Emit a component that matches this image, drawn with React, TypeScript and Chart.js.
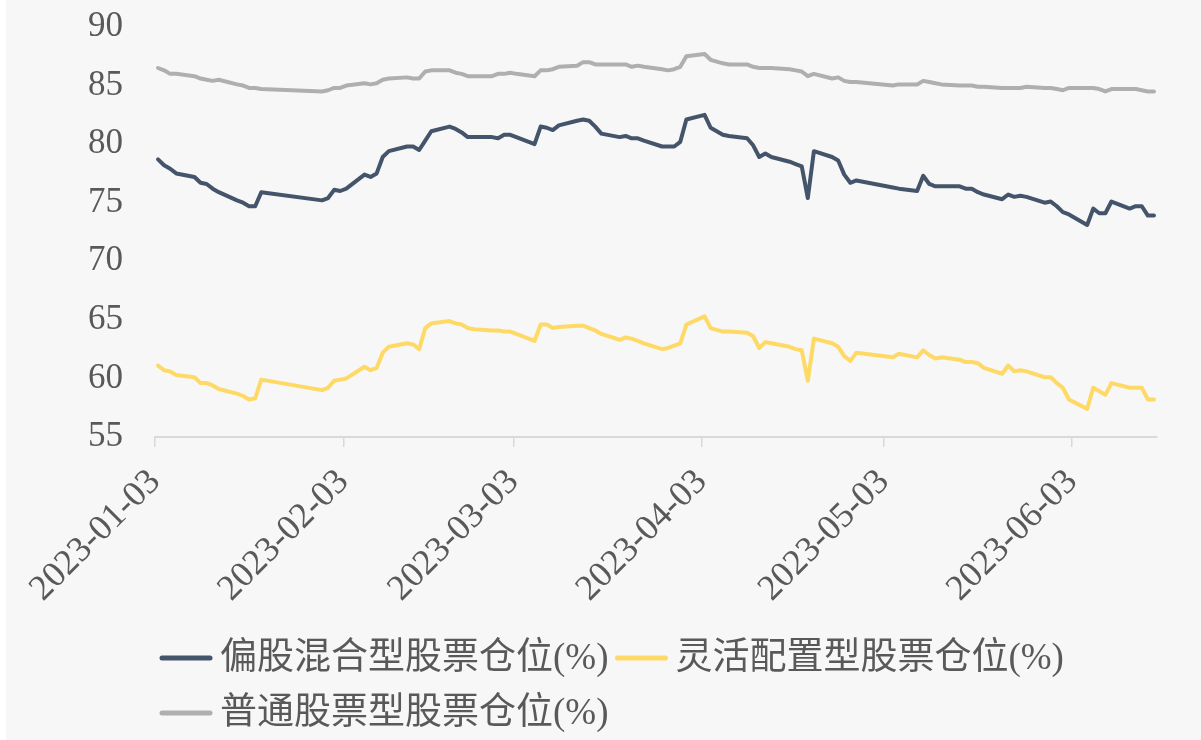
import React, { useEffect, useRef } from 'react';
import { Chart, registerables } from 'chart.js';

Chart.register(...registerables);

// Trading days (2023)
const dates = [
  '2023-01-03','2023-01-04','2023-01-05','2023-01-06','2023-01-09','2023-01-10','2023-01-11','2023-01-12','2023-01-13',
  '2023-01-16','2023-01-17','2023-01-18','2023-01-19','2023-01-20','2023-01-30','2023-01-31',
  '2023-02-01','2023-02-02','2023-02-03','2023-02-06','2023-02-07','2023-02-08','2023-02-09','2023-02-10',
  '2023-02-13','2023-02-14','2023-02-15','2023-02-16','2023-02-17','2023-02-20','2023-02-21','2023-02-22',
  '2023-02-23','2023-02-24','2023-02-27','2023-02-28',
  '2023-03-01','2023-03-02','2023-03-03','2023-03-06','2023-03-07','2023-03-08','2023-03-09','2023-03-10',
  '2023-03-13','2023-03-14','2023-03-15','2023-03-16','2023-03-17','2023-03-20','2023-03-21','2023-03-22',
  '2023-03-23','2023-03-24','2023-03-27','2023-03-28','2023-03-29','2023-03-30','2023-03-31',
  '2023-04-03','2023-04-04','2023-04-06','2023-04-07','2023-04-10','2023-04-11','2023-04-12','2023-04-13',
  '2023-04-14','2023-04-17','2023-04-18','2023-04-19','2023-04-20','2023-04-21','2023-04-24','2023-04-25',
  '2023-04-26','2023-04-27','2023-04-28',
  '2023-05-04','2023-05-05','2023-05-08','2023-05-09','2023-05-10','2023-05-11','2023-05-12','2023-05-15',
  '2023-05-16','2023-05-17','2023-05-18','2023-05-19','2023-05-22','2023-05-23','2023-05-24','2023-05-25',
  '2023-05-26','2023-05-29','2023-05-30','2023-05-31',
  '2023-06-01','2023-06-02','2023-06-05','2023-06-06','2023-06-07','2023-06-08','2023-06-09','2023-06-12',
  '2023-06-13','2023-06-14','2023-06-15','2023-06-16',
];

// 偏股混合型股票仓位(%)
const mixedEquity = [
  78.7, 78.2, 77.9, 77.5, 77.2, 76.7, 76.6, 76.2, 75.9, 75.2, 75.0, 74.7, 74.7, 75.9, 75.2, 75.4,
  76.1, 76.0, 76.2, 77.4, 77.2, 77.5, 78.9, 79.4, 79.8, 79.8, 79.5, 80.3, 81.1, 81.5, 81.3, 81.0, 80.6, 80.6, 80.6, 80.5,
  80.8, 80.8, 80.6, 80.0, 81.5, 81.4, 81.2, 81.6, 82.0, 82.1, 82.0, 81.5, 80.9, 80.6, 80.7, 80.5, 80.5, 80.3, 79.8, 79.8, 79.8, 80.2, 82.1,
  82.5, 81.4, 80.8, 80.7, 80.5, 79.9, 78.9, 79.2, 78.9, 78.5, 78.3, 78.1, 75.4, 79.4, 78.9, 78.6, 77.4, 76.7, 76.9,
  76.3, 76.2, 76.0, 77.3, 76.6, 76.4, 76.4, 76.4, 76.2, 76.2, 75.9, 75.7, 75.3, 75.7, 75.5, 75.6, 75.5, 75.0, 75.1, 74.7,
  74.2, 74.0, 73.1, 74.5, 74.1, 74.1, 75.1, 74.5, 74.7, 74.7, 73.9, 73.9,
];

// 灵活配置型股票仓位(%)
const flexible = [
  61.1, 60.7, 60.6, 60.3, 60.1, 59.6, 59.6, 59.4, 59.1, 58.7, 58.5, 58.2, 58.3, 59.9, 59.0, 59.2,
  59.8, 59.9, 60.0, 61.0, 60.7, 60.9, 62.2, 62.7, 63.0, 62.9, 62.5, 64.3, 64.7, 64.9, 64.7, 64.6, 64.3, 64.2, 64.1, 64.1,
  64.0, 64.0, 63.8, 63.2, 64.6, 64.6, 64.3, 64.4, 64.5, 64.5, 64.3, 64.1, 63.8, 63.3, 63.5, 63.4, 63.2, 63.0, 62.5, 62.6, 62.8, 63.0, 64.6,
  65.3, 64.3, 64.0, 64.0, 63.9, 63.6, 62.6, 63.1, 63.0, 62.7, 62.5, 62.4, 59.8, 63.4, 63.0, 62.7, 61.9, 61.5, 62.2,
  61.8, 62.1, 61.8, 62.4, 62.0, 61.7, 61.8, 61.6, 61.4, 61.4, 61.3, 60.9, 60.4, 61.1, 60.6, 60.7, 60.6, 60.1, 60.1, 59.6,
  59.2, 58.2, 57.4, 59.2, 58.9, 58.6, 59.6, 59.2, 59.2, 59.2, 58.2, 58.2,
];

// 普通股票型股票仓位(%)
const stockFund = [
  86.5, 86.3, 86.0, 86.0, 85.8, 85.6, 85.5, 85.4, 85.5, 85.1, 85.0, 84.8, 84.8, 84.7, 84.5, 84.6,
  84.8, 84.8, 85.0, 85.2, 85.1, 85.2, 85.5, 85.6, 85.7, 85.6, 85.6, 86.2, 86.3, 86.3, 86.1, 86.0, 85.8, 85.8, 85.8, 86.0,
  86.0, 86.1, 86.0, 85.8, 86.3, 86.3, 86.4, 86.6, 86.7, 87.0, 87.0, 86.8, 86.8, 86.8, 86.8, 86.6, 86.7, 86.6, 86.4, 86.3, 86.4, 86.6, 87.5,
  87.7, 87.2, 86.9, 86.8, 86.8, 86.6, 86.5, 86.5, 86.5, 86.4, 86.3, 86.2, 85.8, 86.0, 85.6, 85.7, 85.4, 85.3, 85.3,
  85.0, 85.1, 85.1, 85.4, 85.3, 85.2, 85.1, 85.0, 85.0, 85.0, 84.9, 84.9, 84.8, 84.8, 84.8, 84.8, 84.9, 84.8, 84.8, 84.7,
  84.6, 84.8, 84.8, 84.8, 84.7, 84.5, 84.7, 84.7, 84.7, 84.6, 84.5, 84.5,
];

const tickLabels = ['2023-01-03', '2023-02-03', '2023-03-03', '2023-04-03', '2023-05-03', '2023-06-03'];
const axisStart = '2023-01-03';
const axisEnd = '2023-06-17';
const yMin = 55;
const yMax = 90;
const yStep = 5;

const seriesNames = ['偏股混合型股票仓位(%)', '灵活配置型股票仓位(%)', '普通股票型股票仓位(%)'];
const seriesColors = ['#44546a', '#ffd966', '#afafaf'];

const dayOf = (s: string) =>
  (Date.parse(s + 'T00:00:00Z') - Date.parse(axisStart + 'T00:00:00Z')) / 86400000;

const SERIF = "'Liberation Serif', 'Times New Roman', 'Noto Sans CJK SC', serif";
const TEXT = '#595959';

const bgPlugin = {
  id: 'bg',
  beforeDraw(chart: any) {
    const { ctx, width, height } = chart;
    ctx.save();
    ctx.fillStyle = '#ffffff';
    ctx.fillRect(0, 0, width, height);
    ctx.fillStyle = '#f7f7f7';
    ctx.fillRect(6, 0, width - 6, height);
    ctx.restore();
  },
};

const legendPlugin = {
  id: 'customLegend',
  afterDraw(chart: any) {
    const ctx = chart.ctx;
    ctx.save();
    ctx.font = `37px ${SERIF}`;
    ctx.textBaseline = 'middle';
    ctx.textAlign = 'left';
    const rows = [[0, 1], [2]];
    const rowY = [658, 713];
    const startX = 160;
    const lineLen = 52;
    const gap = 8;
    const itemGap = 7;
    rows.forEach((row, ri) => {
      let x = startX;
      const y = rowY[ri];
      row.forEach((i) => {
        ctx.strokeStyle = seriesColors[i];
        ctx.lineWidth = 5;
        ctx.lineCap = 'round';
        ctx.beginPath();
        ctx.moveTo(x + 2, y);
        ctx.lineTo(x + lineLen - 2, y);
        ctx.stroke();
        x += lineLen + gap;
        ctx.fillStyle = TEXT;
        ctx.fillText(seriesNames[i], x, y + 1);
        x += ctx.measureText(seriesNames[i]).width + itemGap;
      });
    });
    ctx.restore();
  },
};

export default function App() {
  const ref = useRef<HTMLCanvasElement | null>(null);

  useEffect(() => {
    if (!ref.current) return;
    const seriesValues = [mixedEquity, flexible, stockFund];
    const datasets = seriesValues.map((vals, i) => ({
      label: seriesNames[i],
      data: vals.map((v, k) => ({ x: dayOf(dates[k]) + 0.5, y: v })),
      borderColor: seriesColors[i],
      backgroundColor: seriesColors[i],
      borderWidth: 4,
      pointRadius: 0,
      tension: 0,
      borderJoinStyle: 'round' as const,
      borderCapStyle: 'round' as const,
      fill: false,
    }));
    const tickDays = tickLabels.map(dayOf);

    const chart = new Chart(ref.current, {
      type: 'line',
      data: { datasets },
      plugins: [bgPlugin, legendPlugin],
      options: {
        animation: false,
        responsive: false,
        maintainAspectRatio: false,
        layout: { padding: { top: 27, right: 44, left: 0, bottom: 0 } },
        plugins: { legend: { display: false }, tooltip: { enabled: false } },
        scales: {
          x: {
            type: 'linear',
            min: 0,
            max: dayOf(axisEnd),
            afterBuildTicks: (scale: any) => {
              scale.ticks = tickDays.map((v) => ({ value: v }));
            },
            afterFit: (scale: any) => {
              scale.height = 740 - 437;
            },
            ticks: {
              autoSkip: false,
              minRotation: 45,
              maxRotation: 45,
              padding: 14,
              color: TEXT,
              font: { family: SERIF, size: 36 },
              callback: (_v: any, idx: number) => tickLabels[idx],
            },
            grid: {
              display: true,
              drawOnChartArea: false,
              drawTicks: true,
              tickLength: 10,
              color: '#d9d9d9',
              lineWidth: 1.5,
            },
            border: { display: true, color: '#d9d9d9', width: 2 },
          },
          y: {
            type: 'linear',
            min: yMin,
            max: yMax,
            afterFit: (scale: any) => {
              scale.width = 155;
            },
            ticks: {
              stepSize: yStep,
              padding: 0,
              color: TEXT,
              font: { family: SERIF, size: 35 },
            },
            grid: { display: false, drawTicks: true, tickLength: 32 },
            border: { display: false },
          },
        },
      },
    });
    return () => chart.destroy();
  }, []);

  return (
    <div style={{ position: 'fixed', left: 0, top: 0, width: 1201, height: 740 }}>
      <canvas ref={ref} width={1201} height={740} style={{ display: 'block', width: 1201, height: 740 }} />
    </div>
  );
}
